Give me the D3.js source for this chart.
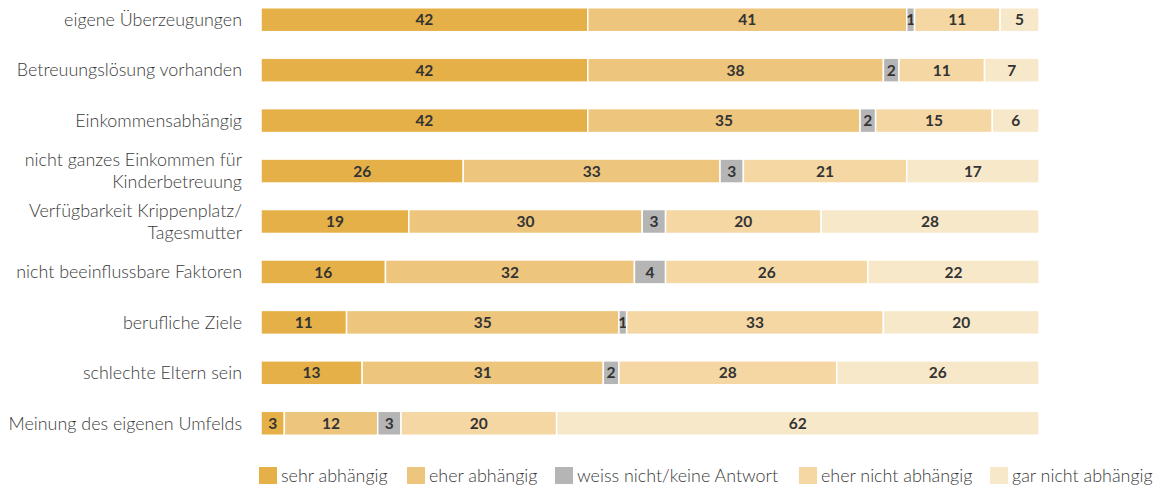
<!DOCTYPE html>
<html><head><meta charset="utf-8">
<script src="https://cdn.jsdelivr.net/npm/d3@7"></script>
<style>
html,body{margin:0;padding:0;background:#fff;}
svg{display:block;font-family:Lato, "Open Sans", sans-serif;}
</style></head>
<body><svg id="chart" width="1168" height="486"></svg>
<script>
const categories = [
  ["eigene Überzeugungen"],
  ["Betreuungslösung vorhanden"],
  ["Einkommensabhängig"],
  ["nicht ganzes Einkommen für", "Kinderbetreuung"],
  ["Verfügbarkeit Krippenplatz/", "Tagesmutter"],
  ["nicht beeinflussbare Faktoren"],
  ["berufliche Ziele"],
  ["schlechte Eltern sein"],
  ["Meinung des eigenen Umfelds"]
];
const seriesNames = ["sehr abhängig", "eher abhängig", "weiss nicht/keine Antwort", "eher nicht abhängig", "gar nicht abhängig"];
const sehr      = [42, 42, 42, 26, 19, 16, 11, 13, 3];
const eher      = [41, 38, 35, 33, 30, 32, 35, 31, 12];
const weiss     = [1, 2, 2, 3, 3, 4, 1, 2, 3];
const eherNicht = [11, 11, 15, 21, 20, 26, 33, 28, 20];
const garNicht  = [5, 7, 6, 17, 28, 22, 20, 26, 62];
const colors = ["#E5B048", "#EDC57C", "#B5B5B5", "#F5D7A4", "#F8E8CA"];

const seriesArrays = [sehr, eher, weiss, eherNicht, garNicht];
const rows = categories.map((c, i) => {
  const o = {idx: i};
  seriesNames.forEach((s, j) => o[s] = seriesArrays[j][i]);
  return o;
});

const svg = d3.select("#chart");
const left = 261, right = 1039;
const x = d3.scaleLinear().domain([0, 100]).range([left, right]);
const y = d3.scaleBand().domain(d3.range(categories.length)).range([-5.5, 448.5]).paddingInner(0.525).paddingOuter(0.2625);

const stack = d3.stack().keys(seriesNames)(rows);

const g = svg.append("g");
stack.forEach((layer, j) => {
  const lg = g.append("g");
  lg.selectAll("rect").data(layer).join("rect")
    .attr("x", d => x(d[0]))
    .attr("y", d => y(d.data.idx))
    .attr("width", d => x(d[1]) - x(d[0]))
    .attr("height", y.bandwidth())
    .attr("fill", colors[j])
    .attr("stroke", "#fff")
    .attr("stroke-width", 1.5);
  lg.selectAll("text").data(layer).join("text")
    .attr("x", d => (x(d[0]) + x(d[1])) / 2)
    .attr("y", d => y(d.data.idx) + y.bandwidth() / 2)
    .attr("dy", "0.36em")
    .attr("text-anchor", "middle")
    .attr("font-size", 15.5)
    .attr("font-weight", 700)
    .attr("fill", "#333")
    .text(d => d[1] - d[0]);
});

// category labels
const lab = svg.append("g");
categories.forEach((lines, i) => {
  const cy = y(i) + y.bandwidth() / 2;
  const n = lines.length;
  lines.forEach((t, k) => {
    lab.append("text")
      .attr("x", 242)
      .attr("y", cy + (k - (n - 1) / 2) * 22)
      .attr("dy", "0.35em")
      .attr("text-anchor", "end")
      .attr("font-size", 17.9)
      .attr("font-weight", 300)
      .attr("fill", "#3a3a3a")
      .text(t);
  });
});

// legend
const legX = [259, 407, 555, 799, 990];
const leg = svg.append("g");
seriesNames.forEach((s, j) => {
  leg.append("rect").attr("x", legX[j]).attr("y", 467).attr("width", 18).attr("height", 17).attr("fill", colors[j]);
  leg.append("text").attr("x", legX[j] + 22).attr("y", 476).attr("dy", "0.35em")
    .attr("font-size", 17.9).attr("font-weight", 300).attr("fill", "#3a3a3a").text(s);
});
</script></body></html>
